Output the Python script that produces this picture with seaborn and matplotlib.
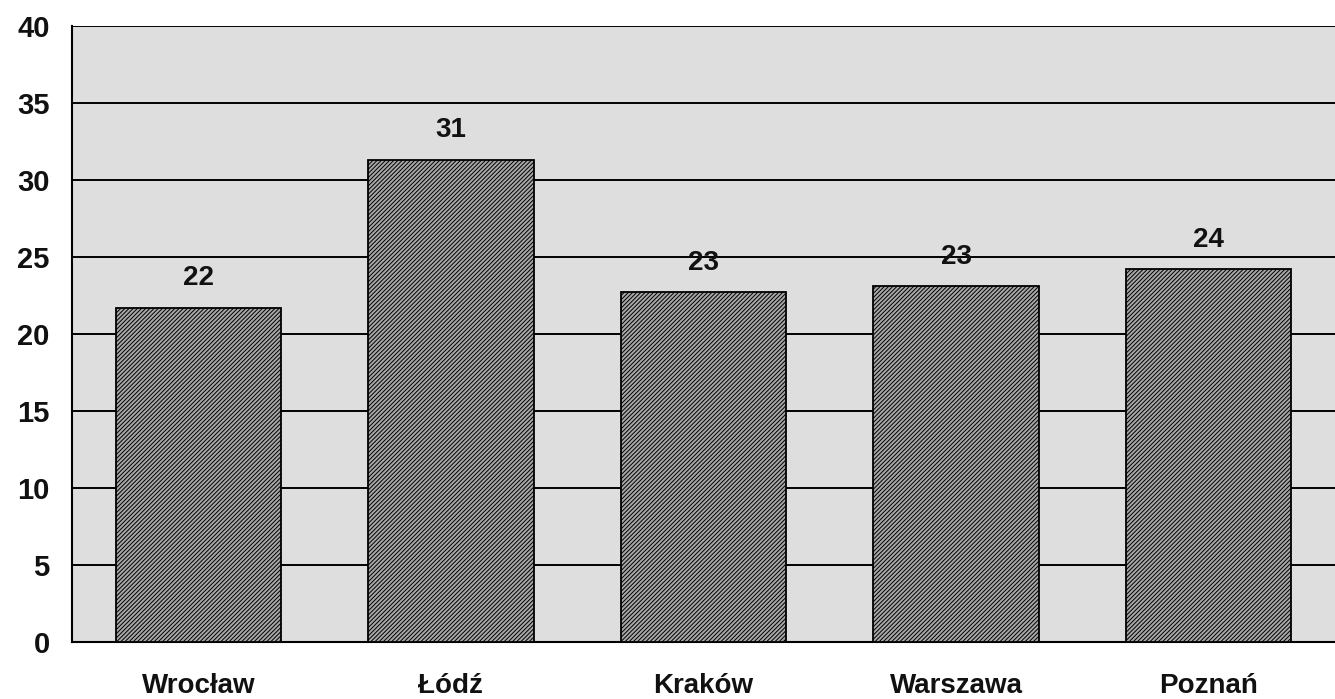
import matplotlib
matplotlib.use("Agg")
import matplotlib.pyplot as plt
import seaborn as sns

# data
cities = ["Wrocław", "Łódź", "Kraków", "Warszawa", "Poznań"]
values = [21.7, 31.3, 22.7, 23.1, 24.2]
labels = ["22", "31", "23", "23", "24"]
yticks = [0, 5, 10, 15, 20, 25, 30, 35, 40]

sns.set_style("white")
plt.rcParams["font.family"] = ["Liberation Sans", "DejaVu Sans"]
plt.rcParams["hatch.color"] = "#858585"
plt.rcParams["hatch.linewidth"] = 0.7

fig = plt.figure(figsize=(13.35, 6.99), dpi=100)
ax = fig.add_axes([72 / 1335, 1 - 642 / 699, 1 - 72 / 1335, (642 - 26) / 699])
ax.set_facecolor("#dedede")

sns.barplot(x=cities, y=values, color="#a8a8a8", width=0.655,
            edgecolor="black", linewidth=1.3, hatch="////////", saturation=1,
            ax=ax, zorder=3)

ax.bar_label(ax.containers[0], labels=labels, padding=12,
             fontsize=20, fontweight="bold", color="#111111")

ax.set_ylim(0, 40)
ax.set_yticks(yticks)
ax.set_xlim(-0.5, 4.44)

ax.set_axisbelow(True)
ax.yaxis.grid(True, color="black", linewidth=1.4)
ax.xaxis.grid(False)

# category ticks sit on boundaries between slots
ax.set_xticks(range(len(cities)))
ax.set_xticklabels(cities, fontsize=20, fontweight="bold", color="#111111")
ax.tick_params(axis="x", length=0, pad=22)
ax.set_xticks([i - 0.5 for i in range(len(cities) + 1)], minor=True)
ax.tick_params(axis="x", which="minor", length=11, width=1.3, color="black",
               direction="out")
ax.tick_params(axis="y", length=10, width=1.3, color="black", direction="out",
               labelsize=21, pad=6, labelcolor="#111111")
for t in ax.get_yticklabels():
    t.set_fontweight("bold")

for side in ["top", "right"]:
    ax.spines[side].set_visible(False)
for side in ["left", "bottom"]:
    ax.spines[side].set_color("black")
    ax.spines[side].set_linewidth(1.5)

ax.set_xlabel("")
ax.set_ylabel("")

fig.savefig("out.png", dpi=100)
